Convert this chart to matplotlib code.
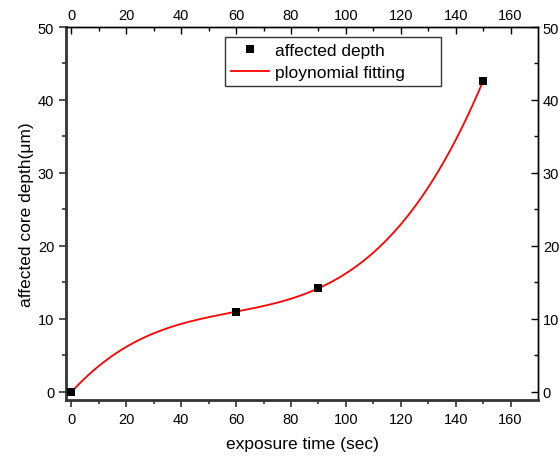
import matplotlib
matplotlib.use("Agg")
import matplotlib.pyplot as plt
import numpy as np

plt.rcParams["font.family"] = ["Liberation Sans", "DejaVu Sans"]

# measured data
exposure_time = [0, 60, 90, 150]
core_depth = [0.0, 11.0, 14.2, 42.6]

x_ticks = [0, 20, 40, 60, 80, 100, 120, 140, 160]
y_ticks = [0, 10, 20, 30, 40, 50]

RED = "#ff0000"
DARK = "#333333"

# polynomial (cubic) fit of the measured points
coef = np.polyfit(exposure_time, core_depth, 3)
fit_x = np.linspace(min(exposure_time), max(exposure_time), 300)
fit_y = np.polyval(coef, fit_x)

fig = plt.figure(figsize=(5.6, 4.64), dpi=100)
ax = fig.add_axes([66 / 560, 1 - 401 / 464, 472 / 560, 373 / 464])

ax.plot(exposure_time, core_depth, "s", color="black", markersize=6.2,
        markeredgewidth=0, label="affected depth", zorder=3)
ax.plot(fit_x, fit_y, "-", color=RED, linewidth=1.3,
        label="ploynomial fitting", zorder=2)

ax.set_xlim(-2, 170)
ax.set_ylim(-1.1, 50)
ax.set_xticks(x_ticks)
ax.set_yticks(y_ticks)
ax.set_xticks(np.arange(10, 170, 20), minor=True)
ax.set_yticks(np.arange(5, 50, 10), minor=True)
ax.tick_params(which="both", direction="out", labelsize=10.5, width=1.2,
               color=DARK, labelcolor="black")
ax.tick_params(which="major", length=5)
ax.tick_params(which="minor", length=3)
ax.tick_params(top=False, right=False)

for side in ("left", "bottom"):
    ax.spines[side].set_linewidth(2)
    ax.spines[side].set_color(DARK)
for side in ("top", "right"):
    ax.spines[side].set_linewidth(1)
    ax.spines[side].set_color("black")

top = ax.secondary_xaxis("top")
top.set_xticks(x_ticks)
top.set_xticks(np.arange(10, 170, 20), minor=True)
top.tick_params(which="both", direction="in", labelsize=10.5, width=1)
top.tick_params(which="major", length=5)
top.tick_params(which="minor", length=3)
top.spines["top"].set_linewidth(1)

right = ax.secondary_yaxis("right")
right.set_yticks(y_ticks)
right.set_yticks(np.arange(5, 50, 10), minor=True)
right.tick_params(which="both", direction="in", labelsize=10.5, width=1)
right.tick_params(which="major", length=5)
right.tick_params(which="minor", length=3)
right.spines["right"].set_linewidth(1)

ax.set_xlabel("exposure time (sec)", fontsize=12.5, labelpad=7)
ax.set_ylabel("affected core depth(\u03bcm)", fontsize=12.5, labelpad=3)

leg = ax.legend(loc="upper left", bbox_to_anchor=(0.337, 0.0, 0.458, 0.973),
                mode="expand", fontsize=12.5,
                frameon=True, fancybox=False, edgecolor="black",
                handlelength=2.2, handletextpad=0.35, borderpad=0.32,
                labelspacing=0.42, borderaxespad=0)
leg.get_frame().set_linewidth(1)

fig.savefig("out.png", dpi=100, facecolor="white")
